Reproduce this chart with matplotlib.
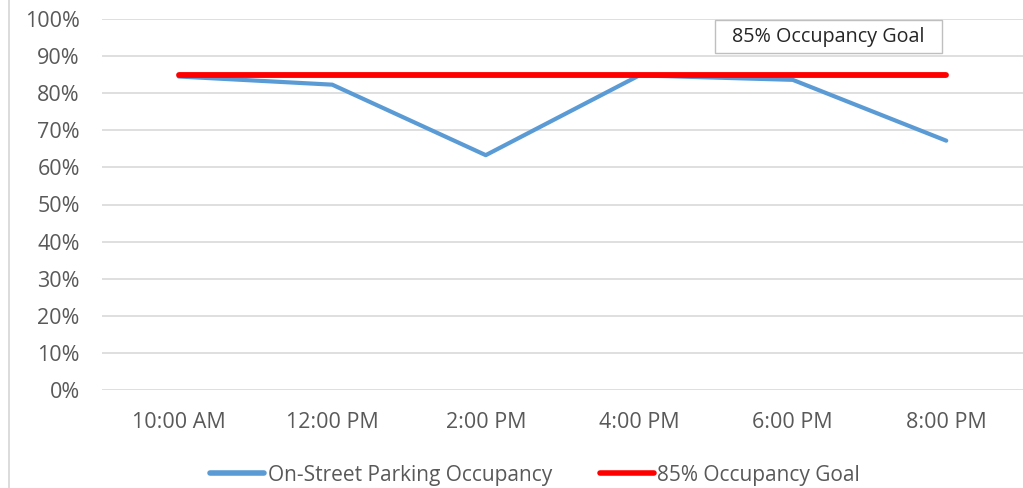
import matplotlib
matplotlib.use("Agg")
import matplotlib.pyplot as plt
from matplotlib.lines import Line2D
from matplotlib.patches import Rectangle
from matplotlib.ticker import PercentFormatter

categories = ["10:00 AM", "12:00 PM", "2:00 PM", "4:00 PM", "6:00 PM", "8:00 PM"]
occupancy = [0.845, 0.823, 0.633, 0.848, 0.836, 0.672]
goal = [0.85, 0.85, 0.85, 0.85, 0.85, 0.85]
yticks = [i / 10 for i in range(11)]

plt.rcParams['font.family'] = ['Open Sans', 'DejaVu Sans']

W, H = 1023, 488
fig = plt.figure(figsize=(W / 100, H / 100), dpi=100)
ax = fig.add_axes([102 / W, 1 - 390 / H, 921 / W, 371 / H])

x = list(range(len(categories)))
blue = "#5b9bd5"
red = "#ff0000"
ax.plot(x, occupancy, color=blue, lw=3.0, solid_capstyle='round', solid_joinstyle='round', zorder=3)
ax.plot(x, goal, color=red, lw=4.2, solid_capstyle='round', zorder=4)

ax.set_xlim(-0.5, len(categories) - 0.5)
ax.set_ylim(0, 1)
ax.set_yticks(yticks)
ax.yaxis.set_major_formatter(PercentFormatter(1.0, decimals=0))
ax.set_xticks(x)
ax.set_xticklabels(categories)
ax.grid(axis='y', color='#d9d9d9', lw=1.2)
ax.set_axisbelow(True)
for s in ax.spines.values():
    s.set_visible(False)
ax.tick_params(axis='both', length=0, labelsize=15.5, colors='#595959')
ax.tick_params(axis='y', pad=16)
ax.tick_params(axis='x', pad=16)

# annotation box
x0, x1 = (715 - 102) / 921, (942 - 102) / 921
y0, y1 = (390 - 53) / 371, (390 - 20) / 371
ax.add_patch(Rectangle((x0, y0), x1 - x0, y1 - y0, transform=ax.transAxes,
                       fc='white', ec='#bfbfbf', lw=1.0, zorder=5))
ax.text((x0 + x1) / 2, (y0 + y1) / 2, "85% Occupancy Goal", transform=ax.transAxes,
        ha='center', va='center', fontsize=14.2, color='#262626', zorder=6)

handles = [Line2D([0], [0], color=blue, lw=4, solid_capstyle='round'),
           Line2D([0], [0], color=red, lw=4, solid_capstyle='round')]
leg = fig.legend(handles, ["On-Street Parking Occupancy", "85% Occupancy Goal"],
                 loc='center', bbox_to_anchor=(535 / W, 1 - 475 / H), ncol=2,
                 frameon=False, fontsize=15, handlelength=2.6, handletextpad=0.15,
                 columnspacing=2.3, labelcolor='#595959')

fig.add_artist(Line2D([8.5 / W, 8.5 / W], [0, 1], color='#d9d9d9', lw=1.3,
                      transform=fig.transFigure))

fig.savefig("out.png", dpi=100)
